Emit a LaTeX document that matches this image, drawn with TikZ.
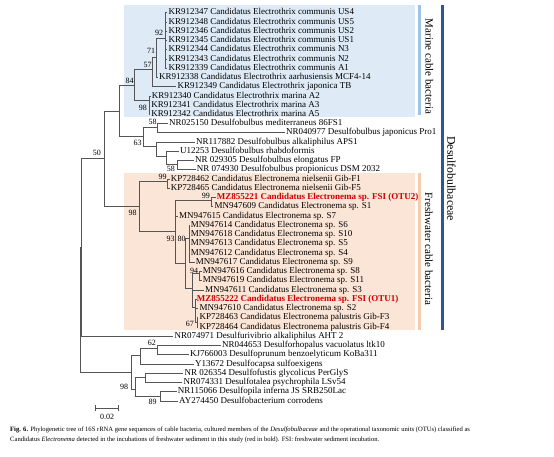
\documentclass[tikz,border=0pt]{standalone}
\usepackage{fontspec}
\setmainfont{Liberation Serif}
\usepackage{xcolor}
\usetikzlibrary{arrows,positioning}
\definecolor{marinebg}{RGB}{222,235,247}
\definecolor{marinebar}{RGB}{157,195,230}
\definecolor{freshbg}{RGB}{251,229,214}
\definecolor{freshbar}{RGB}{248,203,173}
\definecolor{familybar}{RGB}{47,85,151}
\definecolor{otured}{RGB}{204,0,0}
\definecolor{treeline}{RGB}{85,85,85}

\begin{document}
\begin{tikzpicture}[x=1pt,y=-1pt]

  \tikzstyle{every node}=[font=\fontsize{9}{9}\selectfont]
  \tikzstyle{leaf}=[anchor=west,inner sep=1pt,text height=6.2pt,text depth=1.8pt]
  \tikzstyle{otu}=[leaf,text=otured,font=\fontsize{9}{9}\selectfont\bfseries]
  \tikzstyle{boot}=[inner sep=0pt,font=\fontsize{8}{8}\selectfont]
  \tikzstyle{branch}=[draw=treeline,line width=0.6pt]
  \tikzstyle{group}=[rotate=-90,inner sep=0pt,font=\fontsize{11}{11}\selectfont]

  \useasboundingbox (0,0) rectangle (554,457);

  % shaded clades and side bars
  \fill[marinebg] (124.3,5) rectangle (415,116.7);
  \fill[freshbg] (124.3,173.3) rectangle (415,330);
  \fill[marinebar] (418.3,5) rectangle (421,115);
  \fill[freshbar] (418.3,173.3) rectangle (421,330);
  \fill[familybar] (440.7,5) rectangle (444,330);
  \node[group] (marine) at (429.3,66.5) {Marine cable bacteria};
  \node[group] (fresh) at (428.8,249) {Freshwater cable bacteria};
  \node[group,font=\fontsize{11.8}{12}\selectfont] (family) at (451.5,178.7) {Desulfobulbaceae};

  % leaves
  \node[leaf] (l01) at (167.3,12.7) {KR912347 Candidatus Electrothrix communis US4};
  \node[leaf] (l02) at (167.3,21.9) {KR912348 Candidatus Electrothrix communis US5};
  \node[leaf] (l03) at (167.3,31.2) {KR912346 Candidatus Electrothrix communis US2};
  \node[leaf] (l04) at (167.3,40.4) {KR912345 Candidatus Electrothrix communis US1};
  \node[leaf] (l05) at (167.3,49.7) {KR912344 Candidatus Electrothrix communis N3};
  \node[leaf] (l06) at (167.3,58.9) {KR912343 Candidatus Electrothrix communis N2};
  \node[leaf] (l07) at (167.3,68.1) {KR912339 Candidatus Electrothrix communis A1};
  \node[leaf] (l08) at (158,77.4) {KR912338 Candidatus Electrothrix aarhusiensis MCF4-14};
  \node[leaf] (l09) at (176.3,86.6) {KR912349 Candidatus Electrothrix japonica TB};
  \node[leaf] (l10) at (150.7,95.9) {KR912340 Candidatus Electrothrix marina A2};
  \node[leaf] (l11) at (150.2,105.1) {KR912341 Candidatus Electrothrix marina A3};
  \node[leaf] (l12) at (150.2,114.3) {KR912342 Candidatus Electrothrix marina A5};
  \node[leaf] (l13) at (168,123.6) {NR025150 Desulfobulbus mediterraneus 86FS1};
  \node[leaf] (l14) at (285,132.8) {NR040977 Desulfobulbus japonicus Pro1};
  \node[leaf] (l15) at (195,142.1) {NR117882 Desulfobulbus alkaliphilus APS1};
  \node[leaf] (l16) at (179,151.3) {U12253 Desulfobulbus rhabdoformis};
  \node[leaf] (l17) at (194,160.5) {NR 029305 Desulfobulbus elongatus FP};
  \node[leaf] (l18) at (195.7,169.8) {NR 074930 Desulfobulbus propionicus DSM 2032};
  \node[leaf] (l19) at (169.7,179.0) {KP728462 Candidatus Electronema nielsenii Gib-F1};
  \node[leaf] (l20) at (169.7,188.3) {KP728465 Candidatus Electronema nielsenii Gib-F5};
  \node[otu] (l21) at (215.7,197.5) {MZ855221 Candidatus Electronema sp. FSI (OTU2)};
  \node[leaf] (l22) at (213.3,206.7) {MN947609 Candidatus Electronema sp. S1};
  \node[leaf] (l23) at (178,216.0) {MN947615 Candidatus Electronema sp. S7};
  \node[leaf] (l24) at (189.7,225.2) {MN947614 Candidatus Electronema sp. S6};
  \node[leaf] (l25) at (189.7,234.5) {MN947618 Candidatus Electronema sp. S10};
  \node[leaf] (l26) at (189.7,243.7) {MN947613 Candidatus Electronema sp. S5};
  \node[leaf] (l27) at (189.7,252.9) {MN947612 Candidatus Electronema sp. S4};
  \node[leaf] (l28) at (194.7,262.2) {MN947617 Candidatus Electronema sp. S9};
  \node[leaf] (l29) at (201.7,271.4) {MN947616 Candidatus Electronema sp. S8};
  \node[leaf] (l30) at (201.7,280.7) {MN947619 Candidatus Electronema sp. S11};
  \node[leaf] (l31) at (204,289.9) {MN947611 Candidatus Electronema sp. S3};
  \node[otu] (l32) at (195.7,299.1) {MZ855222 Candidatus Electronema sp. FSI (OTU1)};
  \node[leaf] (l33) at (198.3,308.4) {MN947610 Candidatus Electronema sp. S2};
  \node[leaf] (l34) at (198.3,317.6) {KP728463 Candidatus Electronema palustris Gib-F3};
  \node[leaf] (l35) at (198.3,326.9) {KP728464 Candidatus Electronema palustris Gib-F4};
  \node[leaf] (l36) at (173.3,336.1) {NR074971 Desulfurivibrio alkaliphilus AHT 2};
  \node[leaf] (l37) at (221,345.3) {NR044653 Desulforhopalus vacuolatus ltk10};
  \node[leaf] (l38) at (189,354.6) {KJ766003 Desulfoprunum benzoelyticum KoBa311};
  \node[leaf] (l39) at (194,363.8) {Y13672 Desulfocapsa sulfoexigens};
  \node[leaf] (l40) at (183.3,373.1) {NR 026354 Desulfofustis glycolicus PerGlyS};
  \node[leaf] (l41) at (182.3,382.3) {NR074331 Desulfotalea psychrophila LSv54};
  \node[leaf] (l42) at (176.7,391.5) {NR115066 Desulfopila inferna JS SRB250Lac};
  \node[leaf] (l43) at (178,400.8) {AY274450 Desulfobacterium corrodens};

  % internal nodes
  \coordinate (n92) at (165.7,38);
  \coordinate (n71) at (156.7,57);
  \coordinate (n57) at (152.7,69);
  \coordinate (n98m) at (149,100);
  \coordinate (n84) at (134.3,85);
  \coordinate (nX) at (119.3,111);
  \coordinate (n63) at (143.3,136);
  \coordinate (n58a) at (157.7,127);
  \coordinate (nD1) at (156,146);
  \coordinate (nD2) at (166.7,156);
  \coordinate (n58b) at (177.3,164);
  \coordinate (n50) at (104,158);
  \coordinate (n98f) at (139,206);
  \coordinate (n99a) at (167.7,181);
  \coordinate (n93) at (175.7,231.7);
  \coordinate (n99b) at (211.7,200);
  \coordinate (nN) at (185,263);
  \coordinate (n80) at (189,238);
  \coordinate (nP) at (192.3,288);
  \coordinate (n94) at (199.3,273);
  \coordinate (nQ) at (195.5,307);
  \coordinate (n67) at (196.8,322);
  \coordinate (nR1) at (81.7,247);
  \coordinate (root) at (79.8,308);
  \coordinate (n98b) at (131,372);
  \coordinate (nU) at (140,355);
  \coordinate (n62) at (157.7,348);
  \coordinate (nL) at (135,389);
  \coordinate (nL2) at (145,377.7);
  \coordinate (n89) at (160,396);

  % branches
  \foreach \c in {l01,l02,l03,l04,l05,l06,l07}
    \draw[branch] (n92) |- (\c.west);
  \draw[branch] (n71) |- (n92);  \draw[branch] (n71) |- (l08.west);
  \draw[branch] (n57) |- (n71);  \draw[branch] (n57) |- (l09.west);
  \foreach \c in {l10,l11,l12}
    \draw[branch] (n98m) |- (\c.west);
  \draw[branch] (n84) |- (n57);  \draw[branch] (n84) |- (n98m);
  \draw[branch] (nX) |- (n84);   \draw[branch] (nX) |- (n63);
  \draw[branch] (n58a) |- (l13.west);  \draw[branch] (n58a) |- (l14.west);
  \draw[branch] (n63) |- (n58a); \draw[branch] (n63) |- (nD1);
  \draw[branch] (nD1) |- (l15.west);  \draw[branch] (nD1) |- (nD2);
  \draw[branch] (nD2) |- (l16.west);  \draw[branch] (nD2) |- (n58b);
  \draw[branch] (n58b) |- (l17.west);  \draw[branch] (n58b) |- (l18.west);
  \draw[branch] (n50) |- (nX);   \draw[branch] (n50) |- (n98f);
  \draw[branch] (n98f) |- (n99a);  \draw[branch] (n98f) |- (n93);
  \draw[branch] (n99a) |- (l19.west);  \draw[branch] (n99a) |- (l20.west);
  \draw[branch] (n93) |- (n99b);  \draw[branch] (n93) |- (l23.west);  \draw[branch] (n93) |- (nN);
  \draw[branch] (n99b) |- (l21.west);  \draw[branch] (n99b) |- (l22.west);
  \draw[branch] (nN) |- (n80);   \draw[branch] (nN) |- (nP);
  \foreach \c in {l24,l25,l26,l27,l28}
    \draw[branch] (n80) |- (\c.west);
  \draw[branch] (nP) |- (n94);  \draw[branch] (nP) |- (l31.west);  \draw[branch] (nP) |- (nQ);
  \draw[branch] (n94) |- (l29.west);  \draw[branch] (n94) |- (l30.west);
  \draw[branch] (nQ) |- (l32.west);  \draw[branch] (nQ) |- (l33.west);  \draw[branch] (nQ) |- (n67);
  \draw[branch] (n67) |- (l34.west);  \draw[branch] (n67) |- (l35.west);
  \draw[branch] (nR1) |- (n50);  \draw[branch] (nR1) |- (l36.west);
  \draw[branch] (root) |- (nR1);  \draw[branch] (root) |- (n98b);
  \draw[branch] (n98b) |- (nU);  \draw[branch] (n98b) |- (nL);
  \draw[branch] (nU) |- (n62);  \draw[branch] (nU) |- (l39.west);
  \draw[branch] (n62) |- (l37.west);  \draw[branch] (n62) |- (l38.west);
  \draw[branch] (nL) |- (nL2);  \draw[branch] (nL) |- (n89);
  \draw[branch] (nL2) |- (l40.west);  \draw[branch] (nL2) |- (l41.west);
  \draw[branch] (n89) |- (l42.west);  \draw[branch] (n89) |- (l43.west);

  % bootstrap values
  \node[boot] (b92) at (159.2,33.3) {92};
  \node[boot] (b71) at (151,51.3) {71};
  \node[boot] (b57) at (147.5,65) {57};
  \node[boot] (b84) at (129.7,81) {84};
  \node[boot] (b98m) at (142.8,108.3) {98};
  \node[boot] (b58a) at (152.5,121.7) {58};
  \node[boot] (b63) at (137.5,143.3) {63};
  \node[boot] (b50) at (96.8,152.7) {50};
  \node[boot] (b58b) at (170.8,169.3) {58};
  \node[boot] (b99a) at (162.5,177.3) {99};
  \node[boot] (b98f) at (132.5,213.3) {98};
  \node[boot] (b99b) at (205.8,196) {99};
  \node[boot] (b93) at (170.5,239.3) {93};
  \node[boot] (b80) at (181.5,238.7) {80};
  \node[boot] (b94) at (194,271) {94};
  \node[boot] (b67) at (189.8,324) {67};
  \node[boot] (b62) at (151.8,342.7) {62};
  \node[boot] (b98b) at (124.2,386.7) {98};
  \node[boot] (b89) at (152.5,401.7) {89};

  % scale bar
  \coordinate (sb1) at (95,408);
  \coordinate (sb2) at (119,408);
  \draw[branch,|-|] (sb1) -- (sb2);
  \node[boot] (sblab) at (107,417) {0.02};

  % caption
  \node[anchor=north west,inner sep=0pt,align=left,font=\fontsize{6.6}{9.5}\selectfont] (cap) at (10,427)
    {\textbf{Fig. 6.} Phylogenetic tree of 16S rRNA gene sequences of cable bacteria, cultured members of the \textit{Desulfobulbaceae} and the operational taxonomic units (OTUs) classified as\\
     Candidatus \textit{Electronema} detected in the incubations of freshwater sediment in this study (red in bold). FSI: freshwater sediment incubation.};

\end{tikzpicture}
\end{document}
